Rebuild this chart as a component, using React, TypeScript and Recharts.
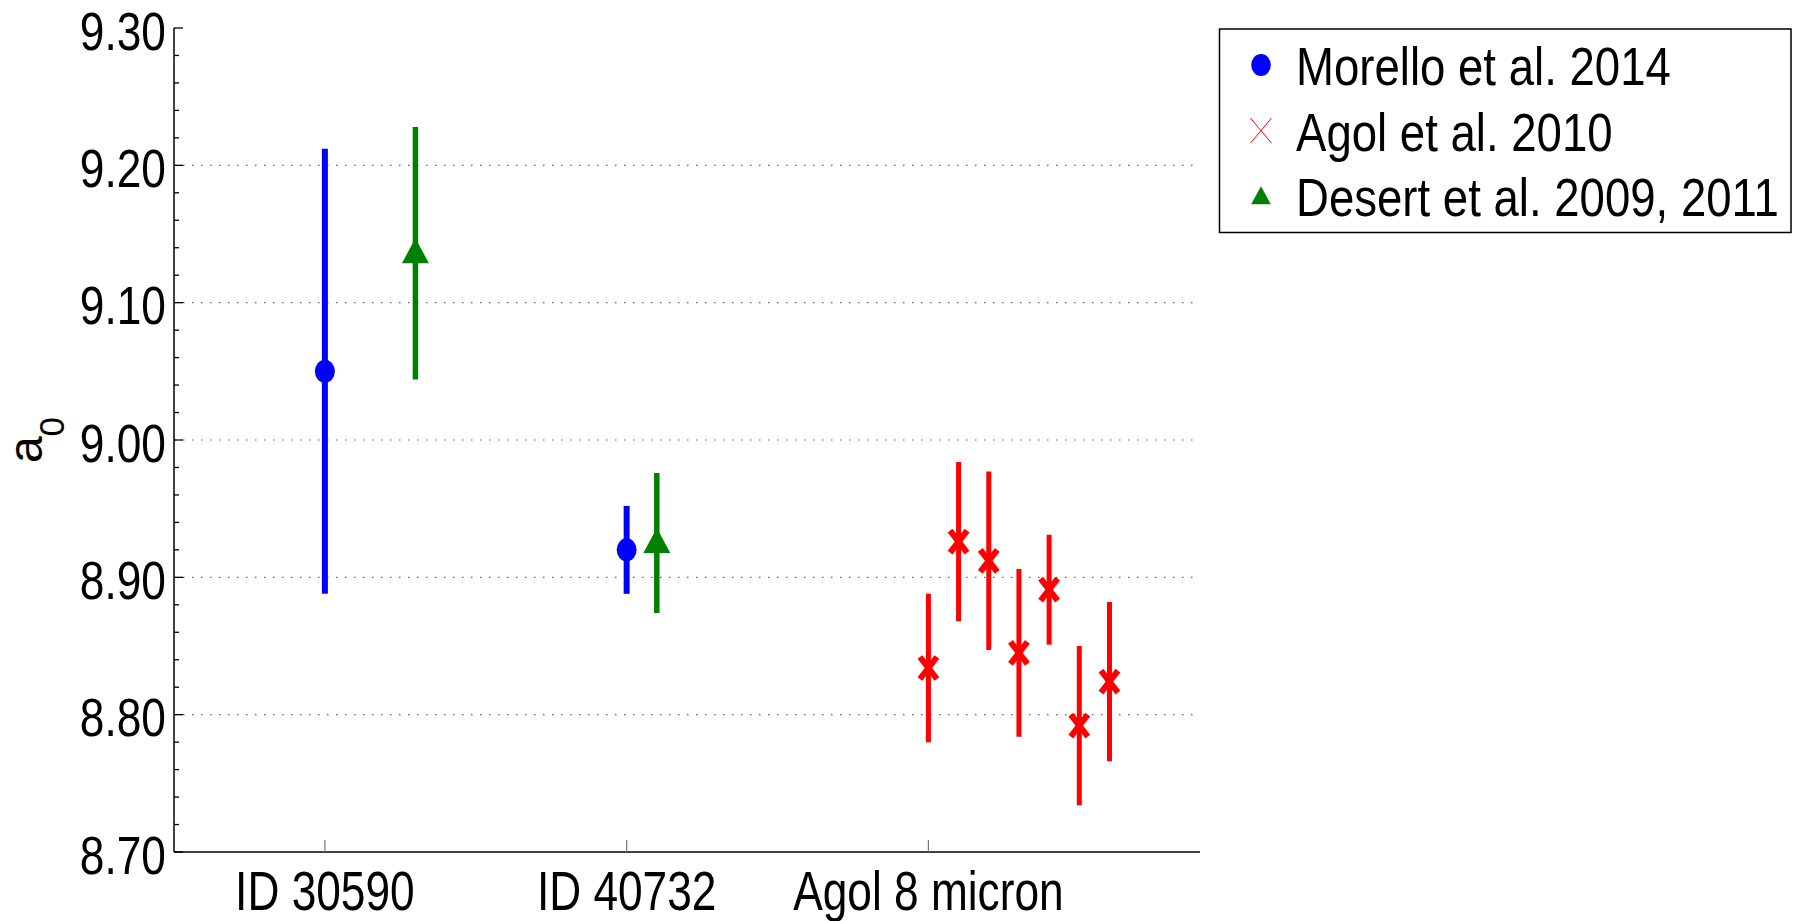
import React from "react";
import {
  ComposedChart,
  Scatter,
  ErrorBar,
  XAxis,
  YAxis,
  ReferenceLine,
} from "recharts";

// x positions are category slots (1, 2, 3) with small offsets per dataset
const categories = ["ID 30590", "ID 40732", "Agol 8 micron"];
const xTicks = [1, 2, 3];
const yTicks = [
  8.7, 8.72, 8.74, 8.76, 8.78, 8.8, 8.82, 8.84, 8.86, 8.88, 8.9, 8.92, 8.94,
  8.96, 8.98, 9.0, 9.02, 9.04, 9.06, 9.08, 9.1, 9.12, 9.14, 9.16, 9.18, 9.2,
  9.22, 9.24, 9.26, 9.28, 9.3,
];
const gridValues = [8.8, 8.9, 9.0, 9.1, 9.2];

const morelloX = [1, 2];
const morelloY = [9.05, 8.92];
const morelloErr = [0.162, 0.032];

const desertX = [1.3, 2.1];
const desertY = [9.136, 8.925];
const desertErr = [0.092, 0.051];

const agolX = [3.0, 3.1, 3.2, 3.3, 3.4, 3.5, 3.6];
const agolY = [8.834, 8.926, 8.912, 8.845, 8.891, 8.792, 8.824];
const agolErr = [0.054, 0.058, 0.065, 0.061, 0.04, 0.058, 0.058];

const BLUE = "#0000ff";
const GREEN = "#008000";
const RED = "#ff0000";
const FONT = "'Liberation Sans', Arial, Helvetica, sans-serif";

const toRows = (xs: number[], ys: number[], es: number[]) =>
  xs.map((x, i) => ({ x, y: ys[i], err: es[i] }));

const morelloData = toRows(morelloX, morelloY, morelloErr);
const desertData = toRows(desertX, desertY, desertErr);
const agolData = toRows(agolX, agolY, agolErr);

const isMajor = (v: number) => Math.round(v * 100) % 10 === 0;

const LeftTick = ({ x, y, payload }: any) => {
  const major = isMajor(payload.value);
  return (
    <g>
      <line x1={x} x2={x + (major ? 9 : 5)} y1={y} y2={y} stroke="#000" strokeWidth={1.3} />
      {major && (
        <text
          transform={`translate(${x - 8},${y + 21.5}) scale(0.82,1)`}
          textAnchor="end"
          fontFamily={FONT}
          fontSize={54}
          fill="#000"
        >
          {payload.value.toFixed(2)}
        </text>
      )}
    </g>
  );
};

const RightTick = ({ x, y, payload }: any) => {
  const major = isMajor(payload.value);
  return <line x1={x} x2={x - (major ? 9 : 5)} y1={y} y2={y} stroke="#000" strokeWidth={1.3} />;
};

const BottomTick = ({ x, y, payload }: any) => (
  <g>
    <line x1={x} x2={x} y1={y} y2={y - 12} stroke="#777" strokeWidth={1.2} />
    <text
      transform={`translate(${x},${y + 58}) scale(0.79,1)`}
      textAnchor="middle"
      fontFamily={FONT}
      fontSize={56}
      fill="#000"
    >
      {categories[payload.value - 1]}
    </text>
  </g>
);

const TopTick = ({ x, y }: any) => (
  <line x1={x} x2={x} y1={y} y2={y + 12} stroke="#777" strokeWidth={1.2} />
);

const YLabel = ({ viewBox }: any) => {
  const cx = viewBox.x - 32;
  const cy = viewBox.y + viewBox.height / 2;
  return (
    <text
      transform={`translate(${cx},${cy}) rotate(-90)`}
      textAnchor="middle"
      fontFamily={FONT}
      fontSize={48}
      fill="#000"
    >
      a
      <tspan fontSize={35} dy={22}>
        0
      </tspan>
    </text>
  );
};

const Dot = ({ cx, cy }: any) => <ellipse cx={cx} cy={cy} rx={10} ry={11.5} fill={BLUE} />;

const Triangle = ({ cx, cy }: any) => (
  <polygon
    points={`${cx},${cy - 15} ${cx - 13.5},${cy + 10} ${cx + 13.5},${cy + 10}`}
    fill={GREEN}
  />
);

const Cross = ({ cx, cy }: any) => (
  <g stroke={RED} strokeWidth={6}>
    <line x1={cx - 8.5} y1={cy - 11} x2={cx + 8.5} y2={cy + 11} />
    <line x1={cx - 8.5} y1={cy + 11} x2={cx + 8.5} y2={cy - 11} />
  </g>
);

const legendItems = [
  { name: "Morello et al. 2014", kind: "dot" },
  { name: "Agol et al. 2010", kind: "cross" },
  { name: "Desert et al. 2009, 2011", kind: "triangle" },
];

const ChartLegend = () => (
  <svg
    width={576}
    height={207}
    style={{ position: "absolute", left: 1218, top: 28 }}
  >
    <rect x={1.5} y={1} width={571.5} height={203.5} fill="#fff" stroke="#000" strokeWidth={1.5} />
    {legendItems.map((item, i) => {
      const baseY = 57 + i * 65.6;
      const my = baseY - 20;
      return (
        <g key={item.name}>
          {item.kind === "dot" && <ellipse cx={43} cy={my} rx={9.8} ry={11} fill={BLUE} />}
          {item.kind === "cross" && (
            <g stroke={RED} strokeWidth={1}>
              <line x1={32.5} y1={my - 12.5} x2={53.5} y2={my + 12.5} />
              <line x1={32.5} y1={my + 12.5} x2={53.5} y2={my - 12.5} />
            </g>
          )}
          {item.kind === "triangle" && (
            <polygon points={`43,${my - 10} 33.2,${my + 8} 52.8,${my + 8}`} fill={GREEN} />
          )}
          <text
            transform={`translate(78,${baseY}) scale(0.86,1)`}
            fontFamily={FONT}
            fontSize={53}
            fill="#000"
          >
            {item.name}
          </text>
        </g>
      );
    })}
  </svg>
);

export default function App() {
  return (
    <div style={{ position: "absolute", left: 0, top: 0, width: 1814, height: 921, background: "#fff" }}>
      <ComposedChart
        width={1814}
        height={921}
        margin={{ top: 28, right: 614, bottom: 9, left: 74 }}
      >
        <XAxis
          dataKey="x"
          type="number"
          domain={[0.5, 3.9]}
          ticks={xTicks}
          allowDataOverflow
          height={60}
          tickSize={0}
          tickMargin={0}
          tickLine={false}
          tick={<BottomTick />}
          axisLine={{ stroke: "#000", strokeWidth: 1.5 }}
        />
        <XAxis
          xAxisId="top"
          orientation="top"
          type="number"
          domain={[0.5, 3.9]}
          ticks={xTicks}
          allowDataOverflow
          height={0}
          tickSize={0}
          tickMargin={0}
          tickLine={false}
          tick={<TopTick />}
          axisLine={{ stroke: "#000", strokeWidth: 1.5 }}
        />
        <YAxis
          dataKey="y"
          type="number"
          domain={[8.7, 9.3]}
          ticks={yTicks}
          interval={0}
          allowDataOverflow
          width={100}
          tickSize={0}
          tickMargin={0}
          tickLine={false}
          tick={<LeftTick />}
          axisLine={{ stroke: "#000", strokeWidth: 1.5 }}
          label={<YLabel />}
        />
        <YAxis
          yAxisId="right"
          orientation="right"
          type="number"
          domain={[8.7, 9.3]}
          ticks={yTicks}
          interval={0}
          allowDataOverflow
          width={0}
          tickSize={0}
          tickMargin={0}
          tickLine={false}
          tick={<RightTick />}
          axisLine={{ stroke: "#222", strokeWidth: 1.5 }}
        />
        {gridValues.map((v) => (
          <ReferenceLine key={v} y={v} stroke="#666" strokeWidth={1.2} strokeDasharray="1.5 7.5" />
        ))}
        <Scatter name="Morello et al. 2014" data={morelloData} shape={<Dot />} isAnimationActive={false}>
          <ErrorBar dataKey="err" direction="y" width={0} stroke={BLUE} strokeWidth={6} isAnimationActive={false} />
        </Scatter>
        <Scatter name="Desert et al. 2009, 2011" data={desertData} shape={<Triangle />} isAnimationActive={false}>
          <ErrorBar dataKey="err" direction="y" width={0} stroke={GREEN} strokeWidth={5.5} isAnimationActive={false} />
        </Scatter>
        <Scatter name="Agol et al. 2010" data={agolData} shape={<Cross />} isAnimationActive={false}>
          <ErrorBar dataKey="err" direction="y" width={0} stroke={RED} strokeWidth={5} isAnimationActive={false} />
        </Scatter>
      </ComposedChart>
      <ChartLegend />
    </div>
  );
}
